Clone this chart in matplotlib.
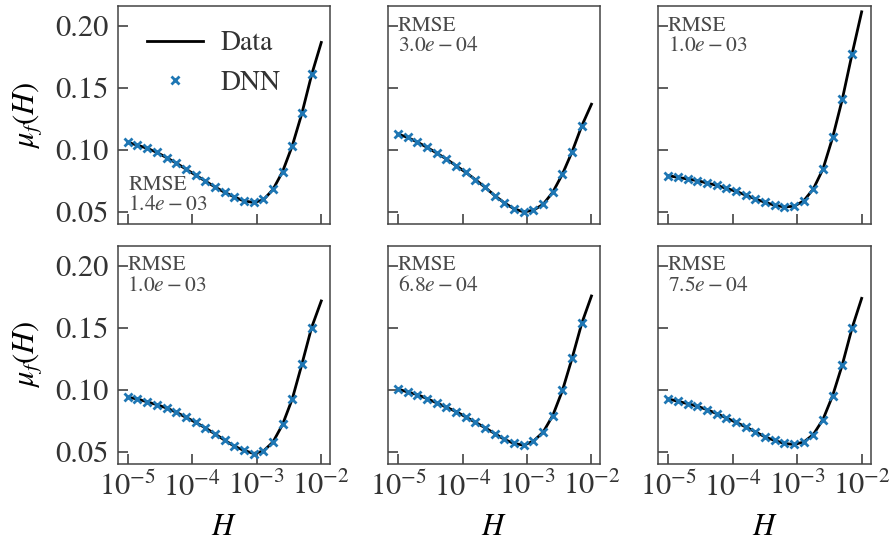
import matplotlib
matplotlib.use('Agg')
import matplotlib.pyplot as plt
from matplotlib.ticker import NullLocator, FixedLocator

plt.rcParams['font.family'] = ['STIXGeneral', 'DejaVu Serif']
plt.rcParams['mathtext.fontset'] = 'stix'

# H values where the DNN was evaluated (markers), and the line grid (markers + 1e-2)
H = [1.0e-5, 1.41e-5, 2.0e-5, 2.82e-5, 3.98e-5, 5.62e-5, 7.94e-5, 1.12e-4,
     1.58e-4, 2.24e-4, 3.16e-4, 4.47e-4, 6.31e-4, 8.91e-4, 1.26e-3, 1.78e-3,
     2.51e-3, 3.55e-3, 5.01e-3, 7.08e-3]
H_line = H + [1.0e-2]

data_1 = [0.1060, 0.1038, 0.1012, 0.0980, 0.0937, 0.0894, 0.0845, 0.0797, 0.0749, 0.0701,
          0.0658, 0.0620, 0.0588, 0.0576, 0.0596, 0.0680, 0.0824, 0.1033, 0.1295, 0.1605, 0.1866]
dnn_1 = [0.1060, 0.1038, 0.1012, 0.0980, 0.0937, 0.0894, 0.0845, 0.0797, 0.0749, 0.0701,
         0.0658, 0.0620, 0.0588, 0.0583, 0.0605, 0.0685, 0.0824, 0.1033, 0.1295, 0.1612]

data_2 = [0.1127, 0.1100, 0.1062, 0.1020, 0.0974, 0.0926, 0.0872, 0.0819, 0.0760, 0.0698,
          0.0631, 0.0572, 0.0524, 0.0500, 0.0513, 0.0561, 0.0658, 0.0805, 0.0985, 0.1194, 0.1368]
dnn_2 = [0.1127, 0.1100, 0.1062, 0.1020, 0.0974, 0.0926, 0.0872, 0.0819, 0.0760, 0.0698,
         0.0631, 0.0572, 0.0524, 0.0500, 0.0513, 0.0561, 0.0658, 0.0805, 0.0985, 0.1194]

data_3 = [0.0792, 0.0778, 0.0765, 0.0752, 0.0733, 0.0714, 0.0690, 0.0666, 0.0636, 0.0604,
          0.0578, 0.0553, 0.0540, 0.0545, 0.0588, 0.0685, 0.0845, 0.1100, 0.1408, 0.1770, 0.2113]
dnn_3 = [0.0792, 0.0778, 0.0765, 0.0752, 0.0733, 0.0714, 0.0690, 0.0666, 0.0636, 0.0604,
         0.0578, 0.0553, 0.0540, 0.0545, 0.0588, 0.0685, 0.0845, 0.1100, 0.1408, 0.1770]

data_4 = [0.0939, 0.0926, 0.0902, 0.0880, 0.0853, 0.0819, 0.0778, 0.0738, 0.0693, 0.0644,
          0.0594, 0.0545, 0.0511, 0.0486, 0.0505, 0.0578, 0.0720, 0.0926, 0.1207, 0.1502, 0.1716]
dnn_4 = [0.0939, 0.0926, 0.0902, 0.0880, 0.0853, 0.0819, 0.0778, 0.0738, 0.0693, 0.0644,
         0.0594, 0.0545, 0.0511, 0.0486, 0.0505, 0.0578, 0.0720, 0.0926, 0.1207, 0.1502]

data_5 = [0.1006, 0.0982, 0.0961, 0.0928, 0.0894, 0.0859, 0.0824, 0.0781, 0.0738, 0.0693,
          0.0647, 0.0599, 0.0567, 0.0553, 0.0586, 0.0658, 0.0792, 0.0995, 0.1255, 0.1537, 0.1756]
dnn_5 = [0.1006, 0.0982, 0.0961, 0.0928, 0.0894, 0.0859, 0.0824, 0.0781, 0.0738, 0.0693,
         0.0647, 0.0599, 0.0567, 0.0553, 0.0586, 0.0658, 0.0792, 0.0995, 0.1255, 0.1537]

data_6 = [0.0926, 0.0907, 0.0888, 0.0867, 0.0840, 0.0808, 0.0773, 0.0738, 0.0701, 0.0661,
          0.0620, 0.0591, 0.0567, 0.0559, 0.0578, 0.0639, 0.0760, 0.0953, 0.1202, 0.1496, 0.1737]
dnn_6 = [0.0926, 0.0907, 0.0888, 0.0867, 0.0840, 0.0808, 0.0773, 0.0738, 0.0701, 0.0661,
         0.0620, 0.0591, 0.0567, 0.0559, 0.0578, 0.0639, 0.0760, 0.0953, 0.1202, 0.1496]

rmse = ['1.4e-03', '3.0e-04', '1.0e-03', '1.0e-03', '6.8e-04', '7.5e-04']
datas = [data_1, data_2, data_3, data_4, data_5, data_6]
dnns = [dnn_1, dnn_2, dnn_3, dnn_4, dnn_5, dnn_6]

fig, axes = plt.subplots(2, 3, figsize=(8.93, 5.45), dpi=100, sharex=True, sharey=True)
fig.subplots_adjust(left=0.132, right=0.975, top=0.989, bottom=0.149,
                    wspace=0.272, hspace=0.101)

for i, ax in enumerate(axes.flat):
    ax.plot(H_line, datas[i], color='black', lw=2.0, label='Data', zorder=2)
    ax.plot(H, dnns[i], ls='none', marker='x', color='#1f77b4', ms=5.5, mew=2.0,
            label='DNN', zorder=3)
    ax.set_xscale('log')
    ax.set_xlim(7.0e-6, 1.38e-2)
    ax.set_ylim(0.0403, 0.216)
    ax.xaxis.set_major_locator(FixedLocator([1e-5, 1e-4, 1e-3, 1e-2]))
    ax.xaxis.set_minor_locator(NullLocator())
    ax.set_yticks([0.05, 0.10, 0.15, 0.20])
    ax.tick_params(direction='in', length=7, width=1.1, color='#333333',
                   labelcolor='#333333')
    ax.tick_params(axis='y', labelsize=22, pad=7)
    ax.tick_params(axis='x', labelsize=22, pad=6)
    for s in ax.spines.values():
        s.set_color('#444444')
        s.set_linewidth(1.1)
    if i == 0:
        ax.text(0.05, 0.04, 'RMSE\n$' + rmse[i] + '$', transform=ax.transAxes,
                ha='left', va='bottom', fontsize=15.5, color='#4a4a4a', linespacing=1.05)
    else:
        ax.text(0.045, 0.955, 'RMSE\n$' + rmse[i] + '$', transform=ax.transAxes,
                ha='left', va='top', fontsize=15.5, color='#4a4a4a', linespacing=1.05)

axes[0, 0].yaxis.set_major_formatter(plt.FormatStrFormatter('%.2f'))
for ax in axes[:, 0]:
    ax.set_ylabel(r'$\mu_f(H)$', fontsize=22, labelpad=8)
for ax in axes[1, :]:
    ax.set_xlabel(r'$H$', fontsize=22, labelpad=8)

leg = axes[0, 0].legend(loc='upper left', frameon=False, fontsize=20, handlelength=2.0,
                        labelspacing=0.5, borderaxespad=0.5, handletextpad=0.65,
                        bbox_to_anchor=(0.02, 1.0))
for t in leg.get_texts():
    t.set_color('#333333')

fig.savefig('out.png', dpi=100)
